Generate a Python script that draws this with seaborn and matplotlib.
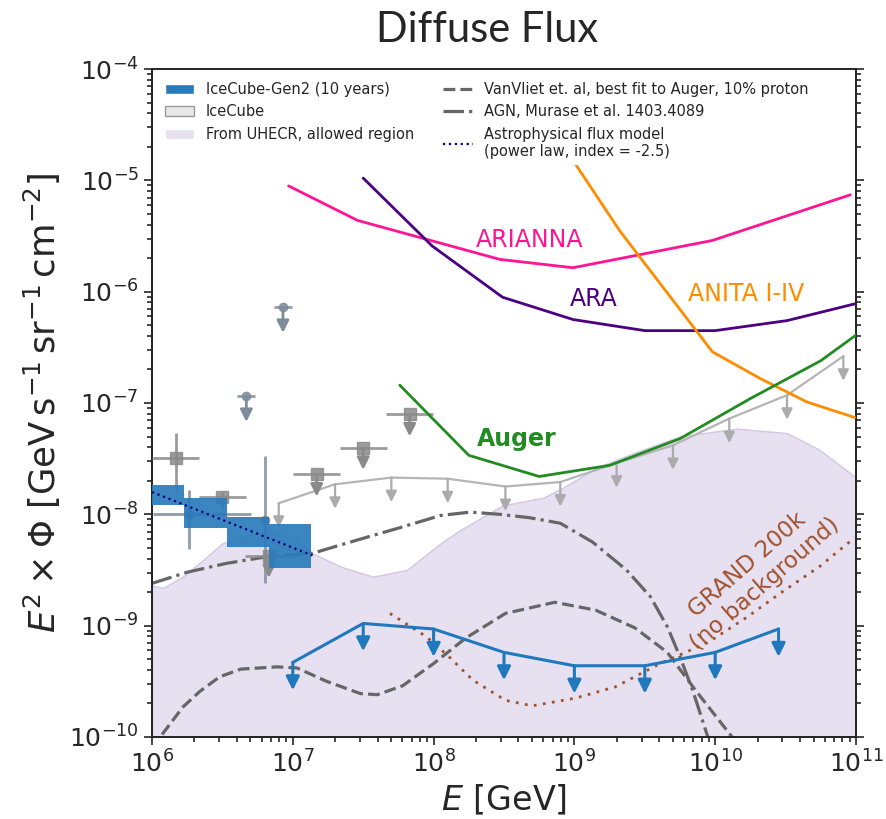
import numpy as np
import pandas as pd
import matplotlib
matplotlib.use("Agg")
import matplotlib.pyplot as plt
import seaborn as sns
from matplotlib.patches import Patch
from matplotlib.lines import Line2D

# ---------------- data (log10 E [GeV], log10 E^2*Phi [GeV s^-1 sr^-1 cm^-2]) -------------
arianna_logE = [6.97, 7.46, 8.47, 8.99, 9.98, 10.96]
arianna_logF = [-5.05, -5.36, -5.71, -5.785, -5.54, -5.13]

ara_logE = [7.50, 7.99, 8.49, 8.99, 9.50, 10.00, 10.51, 10.99]
ara_logF = [-4.98, -5.59, -6.05, -6.25, -6.35, -6.35, -6.26, -6.11]

anita_logE = [8.90, 9.00, 9.32, 9.98, 10.32, 10.65, 10.99]
anita_logF = [-4.66, -4.84, -5.45, -6.54, -6.78, -6.99, -7.13]

auger_logE = [7.76, 8.25, 8.75, 9.25, 9.75, 10.25, 10.75, 11.0]
auger_logF = [-6.84, -7.47, -7.66, -7.56, -7.32, -6.96, -6.62, -6.39]

icecube_logE = [6.90, 7.30, 7.70, 8.10, 8.51, 8.90, 9.30, 9.70, 10.10, 10.51, 10.91]
icecube_logF = [-7.90, -7.73, -7.67, -7.68, -7.75, -7.71, -7.54, -7.38, -7.14, -6.93, -6.58]

gen2_logE = [7.0, 7.5, 8.0, 8.5, 9.0, 9.5, 10.0, 10.45]
gen2_logF = [-9.33, -8.98, -9.03, -9.24, -9.36, -9.36, -9.24, -9.03]

vanvliet_logE = [6.0, 6.07, 6.22, 6.34, 6.48, 6.63, 6.89, 7.03, 7.24, 7.48, 7.60, 7.78,
                 8.00, 8.23, 8.51, 8.86, 9.15, 9.43, 9.66, 9.86, 10.12, 10.2]
vanvliet_logF = [-10.1, -9.98, -9.73, -9.59, -9.46, -9.39, -9.37, -9.38, -9.50, -9.61, -9.62, -9.54,
                 -9.34, -9.11, -8.89, -8.79, -8.86, -9.02, -9.24, -9.58, -10.0, -10.15]

agn_logE = [6.0, 6.25, 6.53, 6.82, 7.14, 7.46, 7.76, 8.05, 8.26, 8.47, 8.68, 8.90, 9.13,
            9.37, 9.54, 9.66, 9.75, 9.84, 9.94, 10.0]
agn_logF = [-8.62, -8.52, -8.44, -8.38, -8.35, -8.23, -8.12, -8.01, -7.98, -8.00, -8.03, -8.08, -8.25,
            -8.50, -8.74, -9.01, -9.28, -9.58, -9.97, -10.2]

grand_logE = [7.69, 7.95, 8.11, 8.28, 8.51, 8.70, 9.01, 9.29, 9.61, 9.95, 10.23, 10.46, 10.74, 10.99]
grand_logF = [-8.89, -9.10, -9.28, -9.49, -9.67, -9.72, -9.65, -9.55, -9.34, -9.15, -8.92, -8.71, -8.47, -8.21]

uhecr_logE = [6.00, 6.08, 6.22, 6.39, 6.50, 6.63, 6.84, 7.02, 7.14, 7.34, 7.57, 7.81, 8.05, 8.19,
              8.49, 8.78, 8.92, 9.16, 9.44, 9.75, 10.15, 10.51, 10.74, 11.00]
uhecr_logF = [-8.64, -8.66, -8.56, -8.38, -8.26, -8.20, -8.14, -8.23, -8.35, -8.47, -8.56, -8.50, -8.26, -8.14,
              -7.92, -7.85, -7.76, -7.58, -7.44, -7.30, -7.23, -7.27, -7.42, -7.67]

powerlaw_logE = [6.0, 7.14]
powerlaw_logF = [-7.80, -8.37]

# IceCube-Gen2 (10 years) boxes
box_logE_lo = [5.93, 6.23, 6.53, 6.83]
box_logE_hi = [6.23, 6.53, 6.83, 7.13]
box_logF_lo = [-7.92, -8.12, -8.29, -8.48]
box_logF_hi = [-7.74, -7.85, -8.02, -8.09]

# IceCube measured points (gray squares)
sq_logE = [6.17, 6.50]
sq_logF = [-7.49, -7.84]
sq_logF_lo = [-7.78, -7.95]
sq_logF_hi = [-7.27, -7.80]
# IceCube upper limits (gray squares)
squl_logE = [6.83, 7.17, 7.50, 7.83]
squl_logF = [-8.37, -7.64, -7.40, -7.10]
sq_halfwidth = 1.0 / 6.0

# slate-gray measured points
sg_logE = [6.26, 6.80]
sg_logF = [-8.00, -8.05]
sg_logE_lo = [6.01, 6.80]
sg_logE_hi = [6.70, 6.80]
sg_logF_lo = [-8.31, -8.62]
sg_logF_hi = [-7.78, -7.48]
# slate-gray upper limits
sgul_logE = [6.67, 6.93]
sgul_logF = [-6.94, -6.14]
sgul_halfwidth = 0.065


def p(a):
    return np.power(10.0, np.asarray(a, dtype=float))


# ---------------- style ----------------
sns.set_style("ticks")
plt.rcParams["font.family"] = ["DejaVu Sans"]
plt.rcParams["mathtext.fontset"] = "dejavusans"

fig = plt.figure(figsize=(8.86, 8.19), dpi=100)
ax = fig.add_axes([152 / 886, 1 - 737 / 819, (856 - 152) / 886, (737 - 69) / 819])
ax.set_xscale("log")
ax.set_yscale("log")

c_gen2 = "#2079bd"
c_box = "#2a7bbb"
c_icecube = "#b5b5b5"
c_uhecr = "#e7e0f1"
c_uhecr_edge = "#d3c6e6"
c_sq = "#8a8a8a"
c_sg = "#7d8b9b"

# UHECR allowed region
ax.fill_between(p(uhecr_logE), 1e-11, p(uhecr_logF), color=c_uhecr, edgecolor=c_uhecr_edge,
                linewidth=1.0, zorder=0.5)


def line(xs, ys, **kw):
    df = pd.DataFrame({"E": p(xs), "F": p(ys)})
    sns.lineplot(data=df, x="E", y="F", ax=ax, sort=False, estimator=None, **kw)


def uplims(xs, ys, drop, color, lw, ms, z):
    for x, y in zip(p(xs), p(ys)):
        ax.annotate("", xy=(x, y * 10 ** (-drop)), xytext=(x, y),
                    arrowprops=dict(arrowstyle="-|>", color=color, lw=lw, shrinkA=0, shrinkB=0,
                                    mutation_scale=ms), zorder=z, annotation_clip=True)


# model curves
line(vanvliet_logE, vanvliet_logF, color="#666666", lw=2.3, linestyle="--", zorder=2)
line(agn_logE, agn_logF, color="#666666", lw=2.3, linestyle="-.", zorder=2)
line(grand_logE, grand_logF, color="#a0522d", lw=2.0, dashes=(1, 2.3), zorder=2.5)

# IceCube limit line
line(icecube_logE, icecube_logF, color=c_icecube, lw=1.6, zorder=2.2)
uplims(icecube_logE, icecube_logF, 0.22, "#ababab", 1.6, 16, 2.2)

# slate-gray points
sgx = p(sg_logE)
sgy = p(sg_logF)
ax.errorbar(sgx, sgy, xerr=[sgx - p(sg_logE_lo), p(sg_logE_hi) - sgx],
            yerr=[sgy - p(sg_logF_lo), p(sg_logF_hi) - sgy], fmt="o", ms=6, color=c_sg,
            elinewidth=2, alpha=0.85, zorder=2.6)
sgux = p(sgul_logE)
sguy = p(sgul_logF)
ax.errorbar(sgux, sguy, xerr=[sgux - sgux * 10 ** (-sgul_halfwidth), sgux * 10 ** sgul_halfwidth - sgux],
            fmt="o", ms=6, color=c_sg, elinewidth=2, alpha=0.85, zorder=2.6)
uplims(sgul_logE, sgul_logF, 0.23, c_sg, 2, 18, 2.6)

# gray squares
sqx = p(sq_logE)
sqy = p(sq_logF)
ax.errorbar(sqx, sqy, xerr=[sqx - sqx * 10 ** (-sq_halfwidth), sqx * 10 ** sq_halfwidth - sqx],
            yerr=[sqy - p(sq_logF_lo), p(sq_logF_hi) - sqy], fmt="s", ms=8, color=c_sq,
            elinewidth=2, alpha=0.85, zorder=2.7)
squx = p(squl_logE)
squy = p(squl_logF)
ax.errorbar(squx, squy, xerr=[squx - squx * 10 ** (-sq_halfwidth), squx * 10 ** sq_halfwidth - squx],
            fmt="s", ms=8, color=c_sq, elinewidth=2, alpha=0.85, zorder=2.7)
uplims(squl_logE, squl_logF, 0.2, c_sq, 2, 18, 2.7)

# Gen2 boxes
ax.bar(p(box_logE_lo), p(box_logF_hi) - p(box_logF_lo), width=p(box_logE_hi) - p(box_logE_lo),
       bottom=p(box_logF_lo), align="edge", color=c_box, alpha=0.92, linewidth=0, zorder=3)
line(powerlaw_logE, powerlaw_logF, color="#000080", lw=1.6, linestyle=":", zorder=3.5)

# Gen2 sensitivity
line(gen2_logE, gen2_logF, color=c_gen2, lw=2.2, zorder=4)
uplims(gen2_logE, gen2_logF, 0.25, c_gen2, 2.2, 20, 4)

# other experiments
line(arianna_logE, arianna_logF, color="#ff1493", lw=2.0, zorder=4)
line(ara_logE, ara_logF, color="#4b0082", lw=2.0, zorder=4)
line(anita_logE, anita_logF, color="#ff8c00", lw=2.0, zorder=4)
line(auger_logE, auger_logF, color="#228b22", lw=2.0, zorder=4)

# labels
ax.text(10 ** 8.685, 10 ** -5.54, "ARIANNA", color="#ff1493", fontsize=17, ha="center", va="center")
ax.text(10 ** 9.14, 10 ** -6.07, "ARA", color="#4b0082", fontsize=17, ha="center", va="center")
ax.text(10 ** 10.22, 10 ** -6.02, "ANITA I-IV", color="#ff8c00", fontsize=17, ha="center", va="center")
ax.text(10 ** 8.59, 10 ** -7.32, "Auger", color="#228b22", fontsize=17, fontweight="bold",
        ha="center", va="center")
ax.text(10 ** 10.29, 10 ** -8.54, "GRAND 200k\n(no background)", color="#a0522d", fontsize=16.5,
        ha="center", va="center", rotation=41, multialignment="center", rotation_mode="anchor")

ax.set_xlim(1e6, 1e11)
ax.set_ylim(1e-10, 1e-4)
ax.set_xlabel(r"$E$ [GeV]", fontsize=24)
ax.set_ylabel(r"$E^2\times\Phi\ [\mathrm{GeV\,s^{-1}\,sr^{-1}\,cm^{-2}}]$", fontsize=25.5)
ax.tick_params(which="both", direction="out", right=True, top=False, labelsize=18, width=1.2)
ax.tick_params(which="major", length=6)
ax.tick_params(which="minor", length=3.5)
for s in ax.spines.values():
    s.set_linewidth(1.4)
    s.set_color("#222222")

handles = [
    Patch(facecolor=c_box),
    Patch(facecolor="#e8e8e8", edgecolor="#9a9a9a"),
    Patch(facecolor=c_uhecr),
    Line2D([], [], color="#666666", lw=2.3, linestyle="--"),
    Line2D([], [], color="#666666", lw=2.3, linestyle="-."),
    Line2D([], [], color="#000080", lw=1.6, linestyle=":"),
]
labels = [
    "IceCube-Gen2 (10 years)",
    "IceCube",
    "From UHECR, allowed region",
    "VanVliet et. al, best fit to Auger, 10% proton",
    "AGN, Murase et al. 1403.4089",
    "Astrophysical flux model\n(power law, index = -2.5)",
]
leg = ax.legend(handles, labels, loc="upper left", ncol=2, fontsize=10.5, frameon=True,
                framealpha=1, facecolor="white", edgecolor="none", fancybox=False)
leg.set_zorder(10)

fig.text(487 / 886, 1 - 30 / 819, "Diffuse Flux", fontsize=30, ha="center", va="center",
         family=["Lato", "DejaVu Sans"])

fig.savefig("out.png", dpi=100)
